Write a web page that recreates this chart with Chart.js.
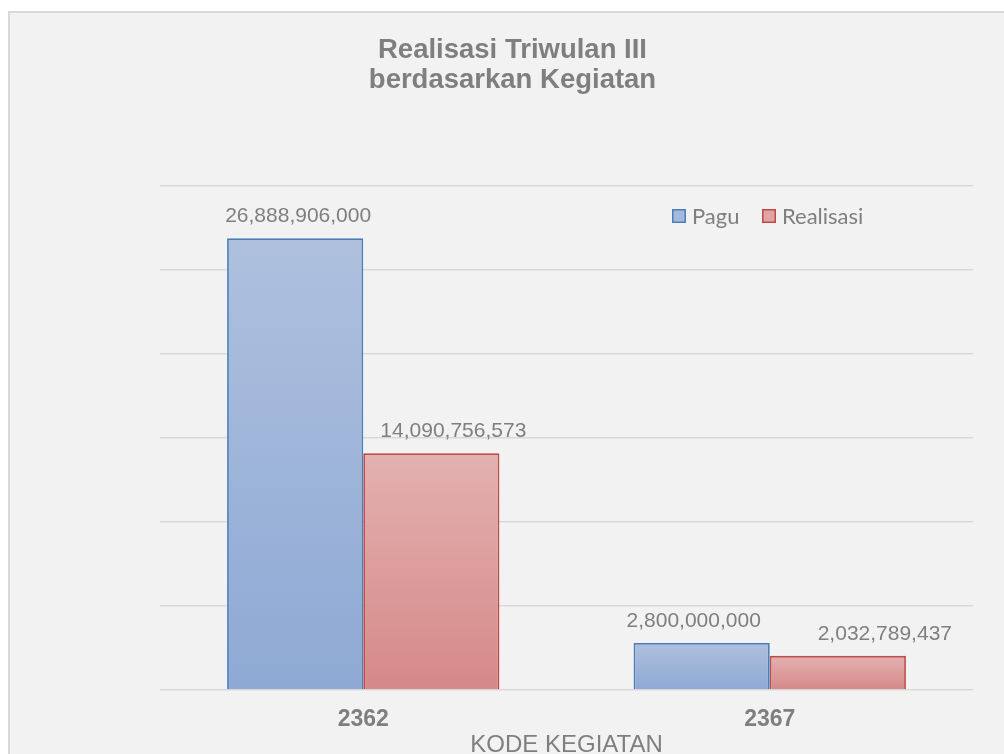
<!DOCTYPE html>
<html><head><meta charset="utf-8">
<script src="https://cdn.jsdelivr.net/npm/chart.js@4.4.0/dist/chart.umd.min.js"></script>
<style>
html,body{margin:0;padding:0;background:#fff;overflow:hidden;width:1004px;height:754px;}
#frame{position:absolute;left:8px;top:11px;width:994px;height:741px;background:#f2f2f2;border-left:2px solid #d9d9d9;border-top:2px solid #d9d9d9;}
canvas{display:block;}
</style></head><body>
<div id="frame"><canvas id="c" width="994" height="741"></canvas></div>
<script>
// ---- data ----
const titleLines = ['Realisasi Triwulan III', 'berdasarkan Kegiatan'];
const categories = ['2362', '2367'];
const seriesNames = ['Pagu', 'Realisasi'];
const paguValues = [26888906000, 2800000000];
const realisasiValues = [14090756573, 2032789437];
const axisTitle = 'KODE KEGIATAN';
const yMin = 0, yMax = 30000000000, yStep = 5000000000;

// ---- style ----
const TEXT = '#7f7f7f';
const styles = [
  { border: '#4a7ebb', top: '#aec0de', bottom: '#8ea9d4', legend: '#a5badb' },
  { border: '#be4b48', top: '#e3b1b0', bottom: '#d58988', legend: '#dea5a4' }
];
const labelDx = [[3, -8], [22, 47]];

function gradFill(i) {
  return (ctx) => {
    const chart = ctx.chart;
    const s = styles[i];
    if (!chart.chartArea || !chart.scales.y || ctx.raw == null) return s.bottom;
    const y = chart.scales.y;
    const top = y.getPixelForValue(ctx.raw);
    const base = y.getPixelForValue(0);
    if (!isFinite(top) || !isFinite(base) || top === base) return s.bottom;
    const g = chart.ctx.createLinearGradient(0, top, 0, base);
    g.addColorStop(0, s.top);
    g.addColorStop(1, s.bottom);
    return g;
  };
}

const valueLabels = {
  id: 'valueLabels',
  afterDatasetsDraw(chart) {
    const c = chart.ctx;
    c.save();
    c.font = '21px "Liberation Sans", Arial, sans-serif';
    c.fillStyle = TEXT;
    c.textAlign = 'center';
    c.textBaseline = 'alphabetic';
    chart.data.datasets.forEach((ds, di) => {
      chart.getDatasetMeta(di).data.forEach((el, i) => {
        const txt = ds.data[i].toLocaleString('en-US');
        c.fillText(txt, el.x + labelDx[di][i], el.y - 16);
      });
    });
    c.restore();
  }
};

const innerLegend = {
  id: 'innerLegend',
  afterDraw(chart) {
    const c = chart.ctx;
    const a = chart.chartArea;
    c.save();
    c.font = '22px Lato, "Noto Sans", sans-serif';
    c.textBaseline = 'middle';
    c.textAlign = 'left';
    let x = a.left + 512;
    const cy = a.top + 30;
    chart.data.datasets.forEach((ds, di) => {
      const s = styles[di];
      c.fillStyle = s.legend;
      c.fillRect(x, cy - 7, 14, 14);
      c.strokeStyle = s.border;
      c.lineWidth = 1.5;
      c.strokeRect(x + 0.75, cy - 6.25, 12.5, 12.5);
      c.fillStyle = TEXT;
      c.fillText(ds.label, x + 20, cy + 1);
      x += 90;
    });
    c.restore();
  }
};

new Chart(document.getElementById('c'), {
  type: 'bar',
  data: {
    labels: categories,
    datasets: [
      { label: seriesNames[0], data: paguValues, backgroundColor: gradFill(0), borderColor: styles[0].border, borderWidth: 1.8 },
      { label: seriesNames[1], data: realisasiValues, backgroundColor: gradFill(1), borderColor: styles[1].border, borderWidth: 1.8 }
    ]
  },
  options: {
    responsive: false,
    animation: false,
    devicePixelRatio: 1,
    datasets: { bar: { categoryPercentage: 0.67, barPercentage: 1.0 } },
    layout: { padding: { left: 42, right: 31, top: 0, bottom: -3 } },
    plugins: {
      legend: { display: false },
      tooltip: { enabled: false },
      title: {
        display: true,
        text: titleLines,
        color: TEXT,
        font: { family: '"Liberation Sans", Arial, sans-serif', size: 27.5, weight: 'bold', lineHeight: 30 / 27.5 },
        padding: { top: 22, bottom: 91 }
      }
    },
    scales: {
      x: {
        grid: { display: false, drawTicks: false },
        border: { display: false },
        ticks: {
          color: TEXT,
          padding: 18.5,
          font: { family: '"Liberation Sans", Arial, sans-serif', size: 23, weight: 'bold', lineHeight: 1.0 }
        },
        title: {
          display: true,
          text: axisTitle,
          color: TEXT,
          padding: { top: -17, bottom: 0 },
          font: { family: '"Liberation Sans", Arial, sans-serif', size: 24, lineHeight: 1.0 }
        }
      },
      y: {
        min: yMin,
        max: yMax,
        ticks: { display: false, stepSize: yStep },
        grid: { color: '#d9d9d9', lineWidth: 1.5, drawTicks: false },
        border: { display: false },
        afterFit(scale) { scale.width = 108; }
      }
    }
  },
  plugins: [valueLabels, innerLegend]
});
</script>
</body></html>
